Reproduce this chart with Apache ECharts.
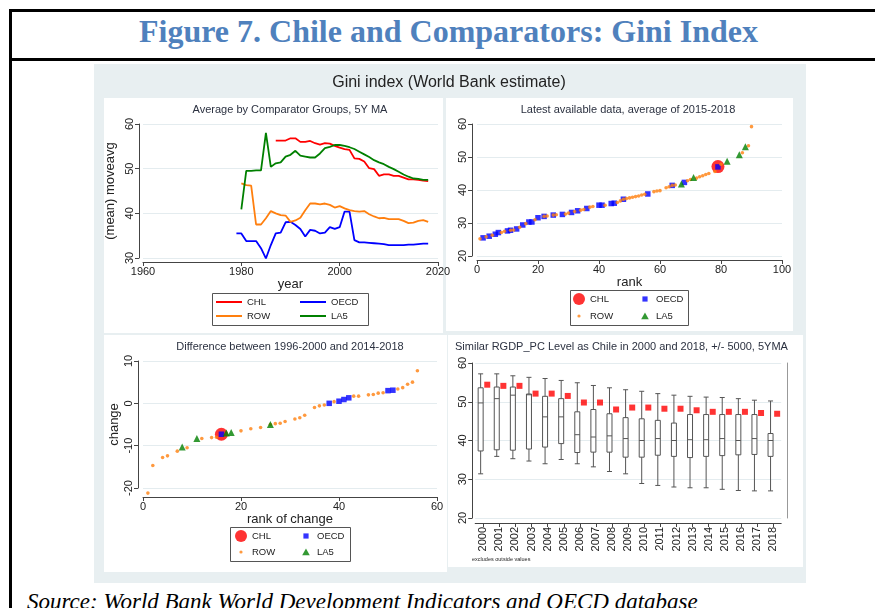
<!DOCTYPE html>
<html>
<head>
<meta charset="utf-8">
<title>Figure 7. Chile and Comparators: Gini Index</title>
<script src="https://cdn.jsdelivr.net/npm/echarts@6/dist/echarts.min.js"></script>
<style>
  html, body { margin: 0; padding: 0; background: #fff; width: 875px; height: 608px; overflow: hidden; }
  .frame { position: absolute; left: 9px; top: 9px; width: 900px; height: 640px; border: 3px solid #000; box-sizing: border-box; }
  .rule { position: absolute; left: 9px; top: 58px; width: 900px; height: 3px; background: #000; }
  .fig-title { position: absolute; left: 0; top: 12px; width: 897px; height: 46px; line-height: 38px; text-align: center;
    color: #4f81bd; font: bold 32px/38px 'Liberation Serif', serif; }
  #chart { position: absolute; left: 94px; top: 64px; width: 712px; height: 519px; }
  .source { position: absolute; left: 27px; top: 590px; font: italic 23px/23px 'Liberation Serif', serif; color: #000; white-space: nowrap; }
</style>
</head>
<body>
<div class="frame"></div>
<div class="rule"></div>
<div class="fig-title">Figure 7. Chile and Comparators: Gini Index</div>
<div id="chart"></div>
<div class="source">Source: World Bank World Development Indicators and OECD database</div>

<script>
// --- panel 1: 5Y moving average by group ---
const years = [1979, 1980, 1981, 1982, 1983, 1984, 1985, 1986, 1987, 1988,
  1989, 1990, 1991, 1992, 1993, 1994, 1995, 1996, 1997, 1998,
  1999, 2000, 2001, 2002, 2003, 2004, 2005, 2006, 2007, 2008,
  2009, 2010, 2011, 2012, 2013, 2014, 2015, 2016, 2017, 2018]
const chlMA = [null, null, null, null, null, null, null, null, 56.3, 56.3,
  56.3, 56.8, 56.8, 56.0, 56.0, 56.2, 55.7, 55.4, 55.7, 55.6,
  55.1, 54.7, 54.4, 54.2, 52.3, 52.2, 51.6, 50.1, 49.9, 48.4,
  48.7, 48.7, 48.4, 48.4, 48.0, 47.6, 47.6, 47.5, 47.3, 47.2]
const oecdMA = [35.5, 35.5, 33.8, 33.8, 33.8, 32.2, 29.9, 32.9, 35.5, 35.7,
  38.0, 38.1, 37.4, 36.5, 34.8, 36.3, 36.1, 35.5, 35.7, 36.9,
  36.5, 36.9, 40.4, 40.4, 34.0, 33.5, 33.5, 33.4, 33.3, 33.2,
  33.1, 32.9, 32.9, 32.9, 32.9, 33.0, 33.0, 33.1, 33.2, 33.2]
const rowMA = [null, 46.7, 46.3, 46.2, 37.5, 37.5, 38.9, 40.5, 40.0, 39.6,
  39.5, 38.1, 38.4, 39.0, 40.7, 42.2, 42.2, 42.0, 42.2, 41.9,
  41.3, 41.6, 41.1, 40.7, 40.5, 40.4, 40.5, 39.8, 39.3, 38.9,
  39.0, 38.7, 38.7, 38.7, 38.3, 37.8, 37.9, 38.3, 38.5, 38.1]
const la5MA = [null, 40.9, 49.5, 49.5, 49.6, 49.6, 58.0, 50.4, 51.2, 51.4,
  52.7, 53.1, 54.0, 52.9, 52.7, 52.5, 52.5, 53.4, 54.6, 54.9,
  55.3, 55.3, 55.1, 54.8, 54.4, 53.8, 53.2, 52.6, 51.9, 51.4,
  51.0, 50.4, 49.9, 49.3, 48.7, 48.2, 47.8, 47.7, 47.5, 47.5]

// --- panel 2: latest data (average 2015-2018), [rank, gini] ---
const latestChl = [[79, 47.1]]
const latestOecd = [[2, 25.5], [4, 26.0], [6, 26.6], [7, 27.1], [10, 27.6], [11, 27.8], [13, 28.2], [15, 29.4],
  [17, 30.3], [18, 30.3], [20, 31.6], [22, 32.0], [25, 32.4], [28, 32.6], [31, 33.2], [33, 33.7],
  [36, 34.4], [40, 35.4], [41, 35.4], [44, 35.9], [45, 36.0], [48, 37.2], [56, 38.8], [64, 41.4],
  [68, 42.3], [79, 47.0]]
const latestRow = [[1, 25.2], [3, 25.8], [5, 26.3], [8, 27.1], [9, 27.5], [11, 27.8], [12, 27.9], [14, 28.7],
  [16, 29.8], [19, 31.0], [22, 32.0], [23, 32.1], [25, 32.4], [26, 32.5], [29, 32.7], [30, 33.0],
  [32, 33.5], [34, 33.9], [35, 34.1], [37, 34.8], [38, 35.0], [42, 35.4], [46, 36.2], [47, 36.7],
  [48, 37.2], [49, 37.4], [50, 37.6], [51, 37.8], [52, 38.0], [53, 38.2], [54, 38.5], [55, 38.7],
  [58, 39.5], [59, 39.7], [60, 39.8], [62, 40.7], [63, 41.0], [64, 41.4], [65, 41.5], [69, 42.8],
  [70, 43.2], [72, 43.6], [73, 44.0], [74, 44.3], [75, 44.7], [76, 45.0], [78, 45.6], [80, 47.8],
  [87, 51.3], [89, 53.4], [90, 59.2]]
const latestLa5 = [[67, 41.8], [71, 43.8], [82, 48.7], [86, 50.7], [88, 53.1]]

// --- panel 3: change between 1996-2000 and 2014-2018, [rank, change] ---
const changeChl = [[16, -7.3]]
const changeOecd = [[16, -7.3], [38, 0.0], [40, 0.5], [41, 0.9], [42, 1.3], [50, 3.0], [51, 3.1]]
const changeRow = [[1, -21.2], [2, -14.7], [4, -12.8], [5, -12.4], [7, -11.3], [9, -10.5], [12, -8.3], [14, -8.1],
  [15, -8.0], [20, -6.5], [22, -6.0], [24, -5.7], [26, -5.0], [27, -4.8], [28, -4.7], [29, -4.3],
  [31, -3.7], [32, -3.4], [33, -2.8], [35, -1.0], [36, -0.6], [37, -0.4], [39, 0.4], [43, 1.7],
  [44, 1.7], [46, 2.0], [47, 2.1], [48, 2.4], [49, 2.5], [52, 3.4], [53, 3.7], [54, 4.5],
  [55, 5.0], [56, 7.7]]
const changeLa5 = [[8, -10.3], [11, -8.3], [17, -7.0], [18, -6.9], [26, -5.0]]

// --- panel 4: peers with similar RGDP per capita, box per year ---
const boxYears = ['2000', '2001', '2002', '2003', '2004', '2005', '2006', '2007', '2008', '2009',
  '2010', '2011', '2012', '2013', '2014', '2015', '2016', '2017', '2018']
const boxLow = [31.4, 35.9, 35.3, 34.7, 34.0, 35.1, 34.0, 33.2, 32.0, 31.4, 28.9, 28.4, 28.0, 27.8, 27.8, 27.4, 27.1, 27.0, 27.0]
const boxQ1 = [37.3, 37.6, 37.5, 37.8, 38.3, 39.2, 36.9, 37.0, 37.0, 35.7, 35.7, 36.2, 35.9, 35.6, 35.9, 36.1, 36.3, 36.4, 35.9]
const boxMedian = [49.7, 50.8, 51.7, 51.8, 46.1, 46.1, 41.5, 40.9, 41.2, 40.5, 40.0, 40.5, 40.0, 40.2, 40.2, 40.5, 40.0, 40.5, 40.0]
const boxQ3 = [53.6, 53.8, 53.8, 52.0, 51.4, 50.8, 47.4, 48.0, 46.9, 45.9, 45.6, 45.2, 44.5, 46.7, 46.7, 46.7, 46.7, 46.7, 41.8]
const boxHigh = [57.2, 57.2, 56.7, 56.3, 56.0, 55.5, 54.9, 54.2, 53.6, 53.1, 52.7, 52.1, 51.7, 51.4, 51.2, 51.1, 50.8, 50.4, 50.2]
const chileByYear = [54.4, 54.1, 54.1, 52.1, 52.1, 51.5, 49.8, 49.8, 48.0, 48.5, 48.5, 48.2, 48.2, 47.8, 47.4, 47.4, 47.4, 47.1, 46.9]

const RED = '#ff0000'
const BLUE = '#0000ff'
const ORANGE = '#ff7f0e'
const GREEN = '#008000'
const FONT = 'Liberation Sans'
const AXIS = '#444'
const GRIDLINE = '#e4ecef'
const TEXT = '#222'

const chart = echarts.init(document.getElementById('chart'))

// 带 Stata 风格的数值轴
function valueAxis(gridIndex, min, max, interval, offset, extra) {
	return Object.assign({
		type: 'value',
		gridIndex: gridIndex,
		min: min,
		max: max,
		interval: interval,
		offset: offset,
		axisLine: { show: true, onZero: false, lineStyle: { color: AXIS, width: 1 } },
		axisTick: { show: true, length: 4, lineStyle: { color: AXIS } },
		axisLabel: { color: TEXT, fontSize: 11, fontFamily: FONT, margin: 4, formatter: v => String(v) },
		splitLine: { show: false },
		nameLocation: 'middle',
		nameTextStyle: { color: TEXT, fontSize: 13, fontFamily: FONT }
	}, extra)
}

function yAxisOf(gridIndex, min, max, offset, name, nameGap) {
	return valueAxis(gridIndex, min, max, 10, offset, {
		name: name,
		nameGap: nameGap,
		axisLabel: { color: TEXT, fontSize: 11, fontFamily: FONT, margin: 4, rotate: 90, formatter: v => String(v) },
		splitLine: { show: true, lineStyle: { color: GRIDLINE, width: 1 } }
	})
}

function pairs(xs, ys) {
	return xs.map((x, i) => [x, ys[i]])
}

// 小图例图标：外框 12x12，内部画小符号
const ICON_SQUARE = 'path://M0,0M12,12M3.4,3.4L8.6,3.4L8.6,8.6L3.4,8.6Z'
const ICON_DOT = 'path://M0,0M12,12M4.4,6A1.6,1.6,0,1,1,7.6,6A1.6,1.6,0,1,1,4.4,6Z'
const ICON_TRI = 'path://M0,0M12,12M6,2.4L9.8,9.2L2.2,9.2Z'

// 一列图例（两行），边框另外用 graphic 画
function legendColumn(left, top, items, size, gap, extra) {
	return Object.assign({
		left: left,
		top: top,
		orient: 'vertical',
		padding: 0,
		itemWidth: size[0],
		itemHeight: size[1],
		itemGap: gap,
		selectedMode: false,
		formatter: name => name.split('-')[0],
		textStyle: { color: TEXT, fontSize: 9.5, fontFamily: FONT },
		data: items
	}, extra)
}

function markerLegends(left, top, colGap, rowGap, suffix) {
	return [
		legendColumn(left, top, [
			{ name: 'CHL-' + suffix, icon: 'circle' },
			{ name: 'ROW-' + suffix, icon: ICON_DOT }
		], [12, 12], rowGap),
		legendColumn(left + colGap, top, [
			{ name: 'OECD-' + suffix, icon: ICON_SQUARE },
			{ name: 'LA5-' + suffix, icon: ICON_TRI }
		], [12, 12], rowGap)
	]
}

function scatterSet(xi, yi, suffix, chl, oecd, row, la5) {
	const base = { type: 'scatter', xAxisIndex: xi, yAxisIndex: yi, clip: false, silent: true }
	return [
		Object.assign({}, base, { name: 'CHL-' + suffix, data: chl, symbol: 'circle', symbolSize: 13, itemStyle: { color: RED } }),
		Object.assign({}, base, { name: 'OECD-' + suffix, data: oecd, symbol: 'rect', symbolSize: 5.5, itemStyle: { color: BLUE } }),
		Object.assign({}, base, { name: 'ROW-' + suffix, data: row, symbol: 'circle', symbolSize: 3.6, itemStyle: { color: ORANGE } }),
		Object.assign({}, base, { name: 'LA5-' + suffix, data: la5, symbol: 'triangle', symbolSize: 7, itemStyle: { color: GREEN } })
	]
}

function lineSeries(name, values, color) {
	return {
		name: name + '-ma',
		type: 'line',
		xAxisIndex: 0,
		yAxisIndex: 0,
		data: pairs(years, values),
		symbol: 'none',
		clip: false,
		color: color,
		lineStyle: { color: color, width: 1.8 }
	}
}

const panelText = (text, x, y, align) => ({
	type: 'text',
	x: x,
	y: y,
	style: { text: text, fill: '#2b3140', font: '11px "Liberation Sans"', align: align || 'center', verticalAlign: 'middle' }
})

const panelRect = (x, y, w, h) => ({
	type: 'rect',
	z: -10,
	shape: { x: x, y: y, width: w, height: h },
	style: { fill: '#fff' }
})

const legendBox = (x, y, w, h) => ({
	type: 'rect',
	z: -5,
	shape: { x: x + 0.5, y: y + 0.5, width: w, height: h },
	style: { fill: '#fff', stroke: '#555', lineWidth: 1 }
})

const option = {
	backgroundColor: '#e8eff1',
	animation: false,
	graphic: [
		panelRect(10, 34, 339, 235),
		panelRect(352, 34, 347, 233),
		panelRect(10, 271, 343, 237),
		panelRect(354, 271, 355, 232),
		legendBox(118, 229, 156, 32),
		legendBox(476, 226, 118, 35),
		legendBox(136, 463, 120, 34),
		{
			type: 'text', x: 355, y: 19,
			style: { text: 'Gini index (World Bank estimate)', fill: TEXT, font: '16px "Liberation Sans"', align: 'center', verticalAlign: 'middle' }
		},
		panelText('Average by Comparator Groups, 5Y MA', 196, 46),
		panelText('Latest available data, average of 2015-2018', 534, 46),
		panelText('Difference between 1996-2000 and 2014-2018', 196, 283),
		panelText('Similar RGDP_PC Level as Chile in 2000 and 2018, +/- 5000, 5YMA', 361, 283, 'left'),
		{
			type: 'text', x: 378, y: 495,
			style: { text: 'excludes outside values', fill: TEXT, font: '5.5px "Liberation Sans"', align: 'left', verticalAlign: 'middle' }
		}
	],
	grid: [
		{ left: 49, top: 60, width: 295, height: 134 },
		{ left: 383, top: 60, width: 305, height: 132 },
		{ left: 49, top: 297, width: 294, height: 127 },
		{ left: 381.2, top: 299, width: 306, height: 155 },
		{ left: 378.6, top: 299, width: 306, height: 155 }
	],
	xAxis: [
		valueAxis(0, 1960, 2020, 20, 4, { name: 'year', nameGap: 14 }),
		valueAxis(1, 0, 100, 20, 4, { name: 'rank', nameGap: 13 }),
		valueAxis(2, 0, 60, 20, 9, { name: 'rank of change', nameGap: 13 }),
		{
			type: 'category',
			gridIndex: 3,
			data: boxYears,
			offset: 5,
			axisLine: { show: true, lineStyle: { color: AXIS } },
			axisTick: { show: true, alignWithLabel: true, length: 4, lineStyle: { color: AXIS } },
			axisLabel: { color: TEXT, fontSize: 11, fontFamily: FONT, rotate: 90, margin: 4, interval: 0 }
		},
		{ type: 'category', gridIndex: 4, data: boxYears, show: false }
	],
	yAxis: [
		yAxisOf(0, 30, 60, 4, '(mean) moveavg', 22),
		yAxisOf(1, 20, 60, 5),
		yAxisOf(2, -20, 10, 5, 'change', 17),
		yAxisOf(3, 20, 60, 3),
		{
			type: 'value', gridIndex: 3, position: 'right', min: 20, max: 60, offset: 6,
			axisLine: { show: true, lineStyle: { color: '#999' } },
			axisTick: { show: false }, axisLabel: { show: false }, splitLine: { show: false }
		},
		{ type: 'value', gridIndex: 4, min: 20, max: 60, show: false }
	],
	legend: [
		legendColumn(121, 233, ['CHL-ma', 'ROW-ma'], [26, 10], 4, { itemStyle: { opacity: 0 } }),
		legendColumn(205, 233, ['OECD-ma', 'LA5-ma'], [26, 10], 4, { itemStyle: { opacity: 0 } }),
		...markerLegends(479, 229, 66, 5, 'rank'),
		...markerLegends(141, 466, 65, 4, 'chg')
	],
	series: [
		lineSeries('CHL', chlMA, RED),
		lineSeries('OECD', oecdMA, BLUE),
		lineSeries('ROW', rowMA, ORANGE),
		lineSeries('LA5', la5MA, GREEN),
		...scatterSet(1, 1, 'rank', latestChl, latestOecd, latestRow, latestLa5),
		...scatterSet(2, 2, 'chg', changeChl, changeOecd, changeRow, changeLa5),
		{
			name: 'peers',
			type: 'boxplot',
			xAxisIndex: 4,
			yAxisIndex: 5,
			boxWidth: [5, 5],
			silent: true,
			itemStyle: { color: '#fff', borderColor: '#555', borderWidth: 1 },
			data: boxYears.map((y, i) => [boxLow[i], boxQ1[i], boxMedian[i], boxQ3[i], boxHigh[i]])
		},
		{
			name: 'Chile',
			type: 'scatter',
			xAxisIndex: 3,
			yAxisIndex: 3,
			symbol: 'rect',
			symbolSize: 6,
			symbolOffset: [4, 0],
			silent: true,
			itemStyle: { color: RED },
			data: chileByYear
		}
	]
}

chart.setOption(option)
</script>
</body>
</html>
